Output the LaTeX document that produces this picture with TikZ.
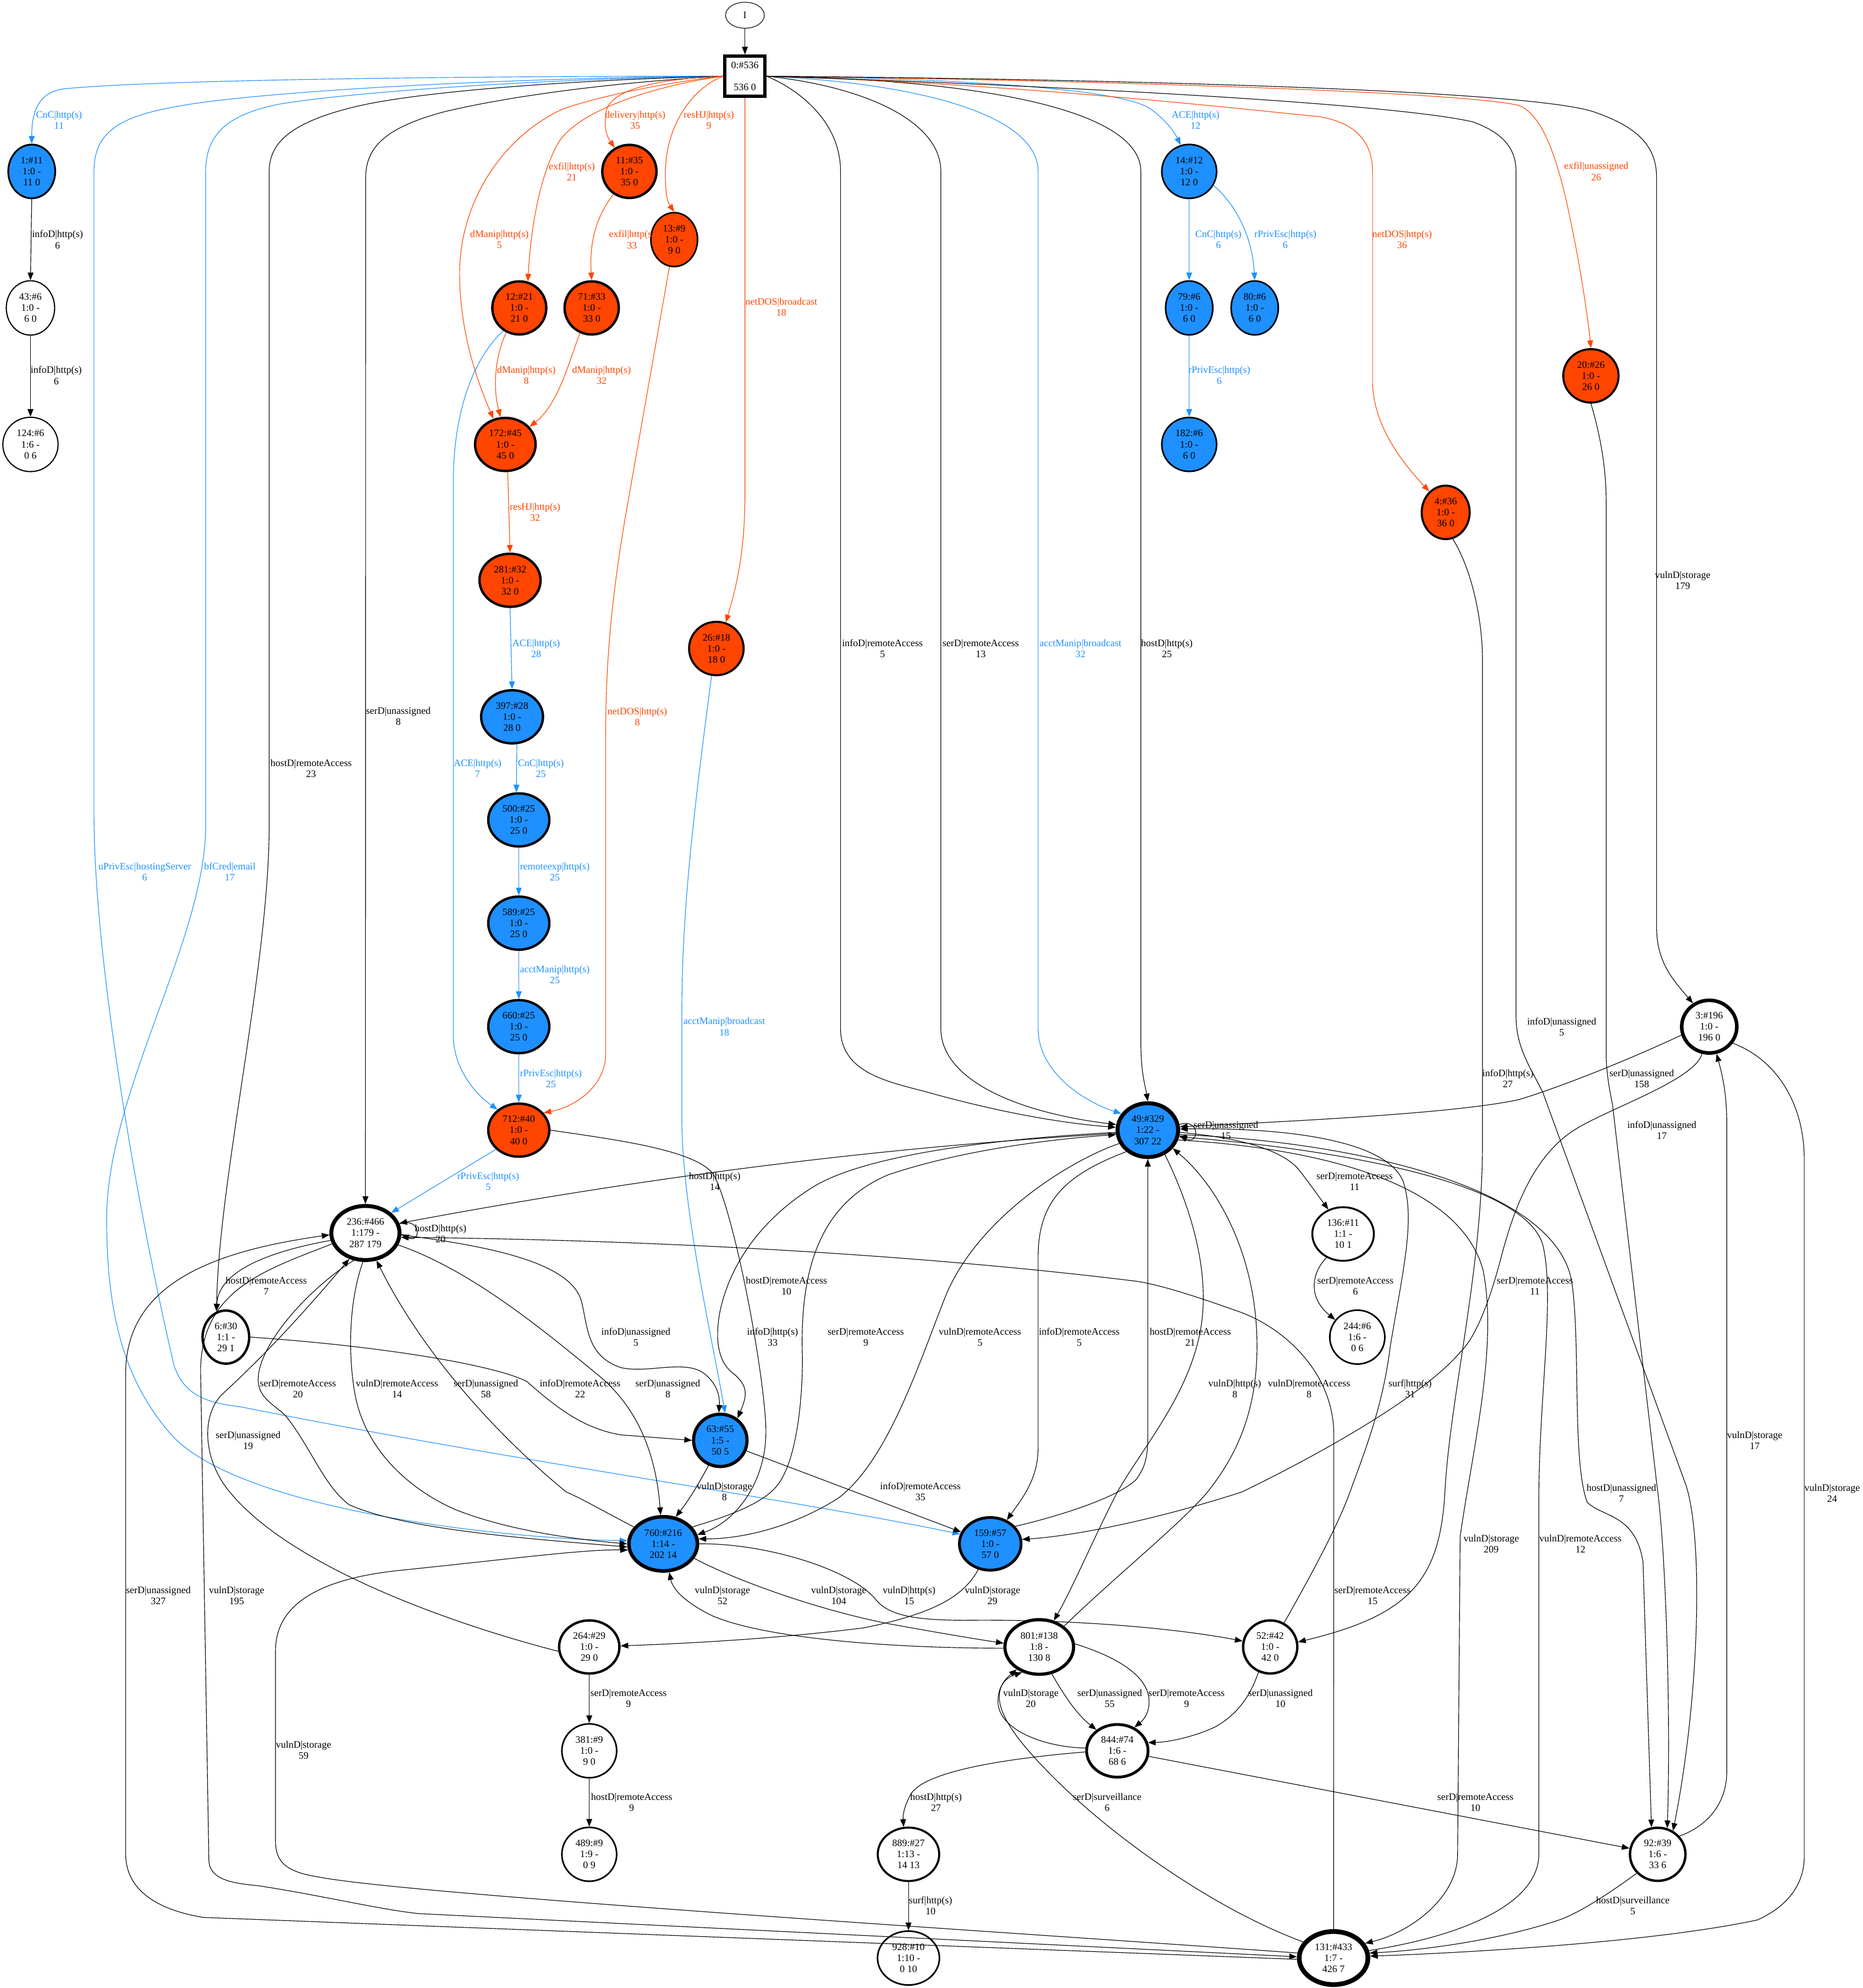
\documentclass[tikz,border=0pt]{standalone}
\usepackage{fontspec}
\setmainfont{Liberation Serif}
\usetikzlibrary{arrows.meta,shapes.geometric}
\definecolor{gblue}{RGB}{30,144,255}
\definecolor{gorange}{RGB}{255,69,0}
\newcommand\gf{\fontsize{7.8}{8.7}\selectfont}
\tikzset{
  gnode/.style={ellipse,draw=black,inner sep=0pt,align=center,font=\gf,text=black},
  ed/.style={line width=0.5pt,-{Triangle[length=6pt,width=4.6pt]}},
  edb/.style={ed,color=gblue},
  edo/.style={ed,color=gorange},
  lb/.style={align=center,inner sep=0pt,font=\gf,text=black},
  lbb/.style={lb,text=gblue},
  lbo/.style={lb,text=gorange}
}
\begin{document}
\begin{tikzpicture}[x=1pt,y=-1pt]
\fill[white] (0,0) rectangle (1466.9,1565.6);
\useasboundingbox (0,0) rectangle (1466.9,1565.6);
% ---------------- nodes
\node[gnode,fill=white,minimum width=30.5pt,minimum height=20.5pt,line width=0.5pt] (nI) at (586.7,12) {I};
\node[draw,rectangle,fill=white,minimum width=31.7pt,minimum height=31.7pt,line width=2.5pt,inner sep=0pt,align=center,font=\gf] (n0) at (586.7,60) {0:\#536\\[8.7pt]536 0};
\node[gnode,fill=gblue,minimum width=37pt,minimum height=42.3pt,line width=1.4pt] (n1) at (25,135) {1:\#11\\1:0 -\\11 0};
\node[gnode,fill=white,minimum width=38.1pt,minimum height=42.8pt,line width=0.9pt] (n43) at (24,242.5) {43:\#6\\1:0 -\\6 0};
\node[gnode,fill=white,minimum width=43.5pt,minimum height=42.8pt,line width=0.9pt] (n124) at (24,350) {124:\#6\\1:6 -\\0 6};
\node[gnode,fill=gorange,minimum width=42.7pt,minimum height=41.8pt,line width=1.9pt] (n11) at (495.7,135) {11:\#35\\1:0 -\\35 0};
\node[gnode,fill=gorange,minimum width=36.75pt,minimum height=42.45pt,line width=1.25pt] (n13) at (531,188.7) {13:\#9\\1:0 -\\9 0};
\node[gnode,fill=gorange,minimum width=42.5pt,minimum height=41.8pt,line width=1.9pt] (n12) at (409,242.5) {12:\#21\\1:0 -\\21 0};
\node[gnode,fill=gorange,minimum width=42.7pt,minimum height=41.8pt,line width=1.9pt] (n71) at (466,242.5) {71:\#33\\1:0 -\\33 0};
\node[gnode,fill=gorange,minimum width=47.7pt,minimum height=41.8pt,line width=1.9pt] (n172) at (398,350) {172:\#45\\1:0 -\\45 0};
\node[gnode,fill=gblue,minimum width=43.15pt,minimum height=42.45pt,line width=1.25pt] (n14) at (936.6,135) {14:\#12\\1:0 -\\12 0};
\node[gnode,fill=gblue,minimum width=37.15pt,minimum height=42.45pt,line width=1.25pt] (n79) at (936.6,242.5) {79:\#6\\1:0 -\\6 0};
\node[gnode,fill=gblue,minimum width=37.15pt,minimum height=42.45pt,line width=1.25pt] (n80) at (988.2,242.5) {80:\#6\\1:0 -\\6 0};
\node[gnode,fill=gblue,minimum width=43.15pt,minimum height=42.45pt,line width=1.25pt] (n182) at (936.6,350) {182:\#6\\1:0 -\\6 0};
\node[gnode,fill=gorange,minimum width=43.6pt,minimum height=42.1pt,line width=1.6pt] (n20) at (1253,296) {20:\#26\\1:0 -\\26 0};
\node[gnode,fill=gorange,minimum width=37.8pt,minimum height=42.1pt,line width=1.6pt] (n4) at (1138.6,403.5) {4:\#36\\1:0 -\\36 0};
\node[gnode,fill=gorange,minimum width=48.1pt,minimum height=41.8pt,line width=1.9pt] (n281) at (401.7,457) {281:\#32\\1:0 -\\32 0};
\node[gnode,fill=gorange,minimum width=43pt,minimum height=42.1pt,line width=1.6pt] (n26) at (564.2,510.7) {26:\#18\\1:0 -\\18 0};
\node[gnode,fill=gblue,minimum width=48.7pt,minimum height=41.8pt,line width=1.9pt] (n397) at (403.3,564.5) {397:\#28\\1:0 -\\28 0};
\node[gnode,fill=gblue,minimum width=48.1pt,minimum height=41.8pt,line width=1.9pt] (n500) at (408.6,645.7) {500:\#25\\1:0 -\\25 0};
\node[gnode,fill=gblue,minimum width=48.1pt,minimum height=41.8pt,line width=1.9pt] (n589) at (408.6,727) {589:\#25\\1:0 -\\25 0};
\node[gnode,fill=gblue,minimum width=48.1pt,minimum height=41.8pt,line width=1.9pt] (n660) at (408.6,808.5) {660:\#25\\1:0 -\\25 0};
\node[gnode,fill=gorange,minimum width=48.1pt,minimum height=41.8pt,line width=1.9pt] (n712) at (408.6,890) {712:\#40\\1:0 -\\40 0};
\node[gnode,fill=white,minimum width=43.4pt,minimum height=41.5pt,line width=2.8pt] (n3) at (1346.2,808.5) {3:\#196\\1:0 -\\196 0};
\node[gnode,fill=gblue,minimum width=47.7pt,minimum height=42.4pt,line width=3.1pt] (n49) at (904,890) {49:\#329\\1:22 -\\307 22};
\node[gnode,fill=white,minimum width=53.7pt,minimum height=42.6pt,line width=3.1pt] (n236) at (287.8,971) {236:\#466\\1:179 -\\287 179};
\node[gnode,fill=white,minimum width=48.5pt,minimum height=42.2pt,line width=1.5pt] (n136) at (1057.8,971.8) {136:\#11\\1:1 -\\10 1};
\node[gnode,fill=white,minimum width=36.7pt,minimum height=41.8pt,line width=1.9pt] (n6) at (177.9,1053) {6:\#30\\1:1 -\\29 1};
\node[gnode,fill=white,minimum width=43.35pt,minimum height=42.45pt,line width=1.25pt] (n244) at (1069,1053) {244:\#6\\1:6 -\\0 6};
\node[gnode,fill=gblue,minimum width=42.1pt,minimum height=41.2pt,line width=2.5pt] (n63) at (567.3,1134.3) {63:\#55\\1:5 -\\50 5};
\node[gnode,fill=gblue,minimum width=54pt,minimum height=42.7pt,line width=2.8pt] (n760) at (522.3,1215.8) {760:\#216\\1:14 -\\202 14};
\node[gnode,fill=gblue,minimum width=48.6pt,minimum height=41.5pt,line width=2.2pt] (n159) at (779.9,1215.8) {159:\#57\\1:0 -\\57 0};
\node[gnode,fill=white,minimum width=47.5pt,minimum height=41.8pt,line width=1.9pt] (n264) at (464.1,1297) {264:\#29\\1:0 -\\29 0};
\node[gnode,fill=white,minimum width=54.1pt,minimum height=43pt,line width=2.5pt] (n801) at (818.5,1297) {801:\#138\\1:8 -\\130 8};
\node[gnode,fill=white,minimum width=42.7pt,minimum height=41.8pt,line width=1.9pt] (n52) at (1000.4,1297) {52:\#42\\1:0 -\\42 0};
\node[gnode,fill=white,minimum width=43.15pt,minimum height=42.45pt,line width=1.25pt] (n381) at (464.1,1378.8) {381:\#9\\1:0 -\\9 0};
\node[gnode,fill=white,minimum width=48.4pt,minimum height=41.5pt,line width=2.2pt] (n844) at (880,1378.8) {844:\#74\\1:6 -\\68 6};
\node[gnode,fill=white,minimum width=43.15pt,minimum height=42.45pt,line width=1.25pt] (n489) at (464.1,1460.3) {489:\#9\\1:9 -\\0 9};
\node[gnode,fill=white,minimum width=48.4pt,minimum height=42.1pt,line width=1.6pt] (n889) at (715.5,1460.3) {889:\#27\\1:13 -\\14 13};
\node[gnode,fill=white,minimum width=43.7pt,minimum height=41.8pt,line width=1.9pt] (n92) at (1305.6,1460.3) {92:\#39\\1:6 -\\33 6};
\node[gnode,fill=white,minimum width=48.75pt,minimum height=42.45pt,line width=1.25pt] (n928) at (715.5,1542) {928:\#10\\1:10 -\\0 10};
\node[gnode,fill=white,minimum width=54.1pt,minimum height=41.8pt,line width=3.7pt] (n131) at (1050.3,1542) {131:\#433\\1:7 -\\426 7};
% ---------------- edges from the root
\draw[ed] (nI) -- (n0);
\draw[edb] (n0.west) .. controls (350,60) and (120,63) .. (50,70) .. controls (30,73) and (25,88) .. (n1.north);
\draw[edb] (n0.west) .. controls (420,61) and (230,70) .. (150,82) .. controls (100,90) and (74,100) .. (74,135) -- (74,640) .. controls (74,760) and (110,960) .. (137,1075) .. controls (145,1100) and (165,1105) .. (190,1108) .. controls (400,1150) and (620,1180) .. (n159.162);
\draw[edb] (n0.west) .. controls (430,62) and (280,72) .. (220,82) .. controls (180,90) and (162,105) .. (162,135) -- (162,650) .. controls (162,740) and (84,860) .. (84,960) .. controls (84,1040) and (100,1090) .. (135,1130) .. controls (190,1190) and (400,1212) .. (n760.175);
\draw[ed] (n0.west) .. controls (450,63) and (330,72) .. (280,84) .. controls (230,96) and (212,112) .. (212,135) -- (212,650) .. controls (212,760) and (172,930) .. (n6.110);
\draw[ed] (n0.west) .. controls (480,65) and (400,76) .. (350,88) .. controls (305,100) and (288,115) .. (288,140) -- (n236.north);
\draw[edo] (n0.west) .. controls (530,64) and (470,76) .. (443,86) .. controls (395,108) and (362,160) .. (362,215) .. controls (362,265) and (378,305) .. (n172.115);
\draw[edo] (n0.west) .. controls (525,66) and (458,84) .. (440,112) .. controls (425,138) and (418,180) .. (n12.72);
\draw[edo] (n0.west) .. controls (520,62) and (478,70) .. (477,90) .. controls (476,100) and (477,106) .. (n11.122);
\draw[edo] (n0.west) .. controls (548,68) and (525,95) .. (524,135) .. controls (524,150) and (525,158) .. (n13.north);
\draw[edo] (n0.south) -- (586.7,390) .. controls (586.7,440) and (578,468) .. (n26.70);
\draw[ed] (n0.east) .. controls (628,70) and (662,95) .. (662,135) -- (662,810) .. controls (662,845) and (700,852) .. (730,860) .. controls (780,874) and (830,884) .. (n49.175);
\draw[ed] (n0.east) .. controls (680,68) and (741,95) .. (741,135) -- (741,810) .. controls (741,850) and (800,876) .. (n49.170);
\draw[edb] (n0.east) .. controls (730,66) and (817.6,92) .. (817.6,135) -- (817.6,810) .. controls (817.6,845) and (855,868) .. (n49.148);
\draw[ed] (n0.east) .. controls (780,63) and (898.5,88) .. (898.5,135) -- (898.5,820) .. controls (898.5,845) and (902,855) .. (n49.north);
\draw[edb] (n0.east) .. controls (760,62) and (880,70) .. (905,85) .. controls (918,94) and (925,104) .. (n14.108);
\draw[edo] (n0.east) .. controls (800,66) and (960,84) .. (1040,92) .. controls (1068,97) and (1081,112) .. (1081,135) -- (1081,300) .. controls (1081,335) and (1105,365) .. (n4.128);
\draw[edo] (n0.east) .. controls (850,63) and (1150,72) .. (1196,83) .. controls (1215,90) and (1226,125) .. (1234,160) .. controls (1243,200) and (1250,245) .. (n20.north);
\draw[ed] (n0.east) .. controls (850,68) and (1100,82) .. (1160,96) .. controls (1185,105) and (1194,118) .. (1194,135) -- (1194,800) .. controls (1194,825) and (1205,840) .. (1215,860) -- (1328,1170) .. controls (1342,1215) and (1338,1340) .. (n92.57);
\draw[ed] (n0.east) .. controls (850,62) and (1200,70) .. (1255,88) .. controls (1290,100) and (1304.7,115) .. (1304.7,140) -- (1304.7,730) .. controls (1304.7,758) and (1318,772) .. (n3.125);
% ---------------- upper chains
\draw[ed] (n1.south) -- (n43.north);
\draw[ed] (n43.south) -- (n124.north);
\draw[edo] (n11.235) .. controls (470,170) and (464,190) .. (n71.north);
\draw[edo] (n12.-118) .. controls (390,280) and (388,305) .. (n172.100);
\draw[edo] (n71.-115) .. controls (448,285) and (440,318) .. (n172.36);
\draw[edo] (n172.-85) -- (n281.north);
\draw[edb] (n281.south) -- (n397.north);
\draw[edb] (n397.-80) -- (n500.95);
\draw[edb] (n500.south) -- (n589.north);
\draw[edb] (n589.south) -- (n660.north);
\draw[edb] (n660.south) -- (n712.north);
\draw[edb] (n14.south) -- (n79.north);
\draw[edb] (n14.-30) .. controls (970,158) and (986,182) .. (n80.north);
\draw[edb] (n79.south) -- (n182.north);
\draw[edb] (n12.235) .. controls (370,285) and (357,330) .. (357,380) -- (357,815) .. controls (357,842) and (375,862) .. (n712.136);
\draw[edo] (n13.-100) -- (492,410) .. controls (482,470) and (477,520) .. (477,580) -- (477,830) .. controls (477,856) and (452,872) .. (n712.35);
\draw[ed] (n20.south) .. controls (1261,345) and (1265,370) .. (1265,395) -- (1265,830) .. controls (1265,845) and (1268,860) .. (1270,870) -- (1305,1170) .. controls (1312,1220) and (1316,1350) .. (n92.70);
\draw[ed] (n4.-75) .. controls (1160,450) and (1167.6,490) .. (1167.6,520) -- (1167.6,900) .. controls (1167.6,1000) and (1142,1100) .. (1138,1175) .. controls (1134,1245) and (1110,1272) .. (n52.10);
\draw[edb] (n26.260) .. controls (545,650) and (537,720) .. (537,800) -- (537,880) .. controls (537,950) and (560,1050) .. (n63.80);
% ---------------- around 236
\draw[edb] (n712.220) -- (n236.38);
\draw[ed] (n712.east) .. controls (480,897) and (548,905) .. (562,925) .. controls (578,955) and (600,1070) .. (603,1120) .. controls (606,1165) and (580,1198) .. (n760.15);
\draw[ed] (n49.186) .. controls (700,903) and (520,925) .. (n236.16);
\draw[ed] (n236.15) .. controls (332,958) and (332,980) .. (n236.-2);
\draw[ed] (n131.north) -- (1050.5,1130) .. controls (1050.5,1080) and (1010,1045) .. (976,1033) .. controls (945,1022) and (915,1012) .. (895,1009) .. controls (700,985) and (480,976) .. (n236.-7);
\draw[ed] (n236.192) .. controls (215,985) and (172,1000) .. (n6.110);
\draw[ed] (n131.182) -- (160,1510) .. controls (130,1505) and (99,1492) .. (99,1460) -- (99,1080) .. controls (100,1010) and (170,985) .. (n236.183);
\draw[ed] (n236.198) .. controls (210,1000) and (158,1015) .. (158,1080) -- (164.5,1465) .. controls (165,1480) and (182,1483) .. (203,1485) .. controls (250,1492) and (300,1504) .. (330,1507) -- (n131.178);
\draw[ed] (n131.172) .. controls (800,1522) and (320,1492) .. (250,1478) .. controls (225,1474) and (217,1466) .. (217,1450) -- (217,1300) .. controls (217,1270) and (240,1245) .. (312,1237) .. controls (400,1228) and (460,1220) .. (n760.190);
\draw[ed] (n264.188) .. controls (360,1280) and (230,1235) .. (181,1175) .. controls (160,1150) and (158,1115) .. (175,1098) .. controls (200,1075) and (230,1045) .. (n236.238);
\draw[ed] (n236.247) .. controls (250,1010) and (210,1050) .. (204,1080) .. controls (200,1100) and (215,1105) .. (225,1115) .. controls (245,1140) and (255,1170) .. (275,1185) .. controls (320,1205) and (420,1212) .. (n760.185);
\draw[ed] (n236.265) .. controls (273,1030) and (275,1075) .. (280,1100) .. controls (288,1140) and (320,1172) .. (359,1189) .. controls (400,1205) and (450,1212) .. (n760.180);
\draw[ed] (n760.150) .. controls (475,1190) and (458,1180) .. (446,1175) .. controls (385,1125) and (330,1060) .. (n236.292);
\draw[ed] (n236.-20) .. controls (370,1000) and (425,1045) .. (470,1082) .. controls (505,1110) and (517,1150) .. (n760.95);
\draw[ed] (n236.-3) .. controls (390,982) and (450,995) .. (458,1025) .. controls (463,1045) and (462,1068) .. (489,1077) .. controls (510,1082) and (540,1070) .. (555,1082) .. controls (565,1090) and (567,1100) .. (n63.93);
\draw[ed] (n6.east) .. controls (300,1060) and (390,1075) .. (415,1088) .. controls (440,1110) and (460,1125) .. (489,1130) -- (n63.west);
% ---------------- around 49, 63, 760, 159
\draw[ed] (n760.30) .. controls (570,1195) and (600,1185) .. (612,1170) .. controls (628,1150) and (632,1100) .. (632,1070) .. controls (630,1010) and (640,950) .. (700,925) .. controls (760,905) and (830,897) .. (n49.188);
\draw[ed] (n49.184) .. controls (780,897) and (680,910) .. (640,935) .. controls (600,960) and (575,995) .. (567,1033) .. controls (562,1060) and (568,1075) .. (578,1082) .. controls (590,1092) and (588,1100) .. (n63.52);
\draw[ed] (n49.205) .. controls (840,915) and (770,960) .. (745,1020) .. controls (725,1070) and (700,1150) .. (660,1180) .. controls (620,1205) and (580,1212) .. (n760.8);
\draw[ed] (n63.245) .. controls (552,1165) and (545,1178) .. (n760.65);
\draw[ed] (n63.-22) -- (n159.158);
\draw[ed] (n49.225) .. controls (840,925) and (817.6,945) .. (817.6,990) -- (817.6,1140) .. controls (817.6,1165) and (805,1180) .. (n159.55);
\draw[ed] (n159.35) .. controls (830,1195) and (880,1180) .. (895,1165) .. controls (902,1155) and (904,1148) .. (904,1130) -- (n49.south);
\draw[ed] (n3.255) .. controls (1335,850) and (1270,872) .. (1243,888) .. controls (1205,910) and (1190,960) .. (1181,995) .. controls (1170,1035) and (1160,1055) .. (1150,1065) .. controls (1120,1100) and (1040,1145) .. (978,1175) .. controls (900,1200) and (840,1210) .. (n159.8);
\draw[ed] (n3.197) .. controls (1260,845) and (1210,862) .. (1196,866) .. controls (1150,876) and (1040,882) .. (n49.6);
\draw[ed] (n92.40) .. controls (1345,1438) and (1360,1420) .. (1360,1395) -- (1360,885) .. controls (1360,860) and (1356,845) .. (n3.-75);
\draw[ed] (n3.-35) .. controls (1400,835) and (1421,870) .. (1421,913) -- (1421,1462) .. controls (1421,1490) and (1400,1505) .. (1384,1512) .. controls (1300,1530) and (1150,1538) .. (n131.3);
\draw[ed] (n49.-18) .. controls (1050,905) and (1150,935) .. (1168,1000) .. controls (1180,1060) and (1160,1140) .. (1150,1210) -- (1148,1460) .. controls (1148,1495) and (1110,1522) .. (n131.25);
\draw[ed] (n131.12) .. controls (1150,1525) and (1212,1500) .. (1212,1460) -- (1212,1180) .. controls (1212,1100) and (1225,1020) .. (1215,980) .. controls (1200,930) and (1050,905) .. (n49.-12);
\draw[ed] (n49.-8) .. controls (1050,898) and (1225,930) .. (1238,1010) .. controls (1245,1060) and (1238,1150) .. (1250,1183) .. controls (1262,1195) and (1288,1192) .. (1294,1230) -- (n92.103);
\draw[ed] (n49.-55) .. controls (935,945) and (955,1000) .. (945,1050) .. controls (935,1100) and (900,1140) .. (880,1175) .. controls (862,1210) and (845,1250) .. (n801.61);
\draw[ed] (n801.40) .. controls (880,1240) and (930,1200) .. (951,1175) .. controls (975,1145) and (990,1110) .. (990,1060) .. controls (990,990) and (960,935) .. (n49.-36);
\draw[ed] (n52.60) .. controls (1030,1245) and (1055,1200) .. (1065,1170) .. controls (1080,1130) and (1090,1100) .. (1095,1060) .. controls (1105,1000) and (1115,960) .. (1105,930) .. controls (1090,895) and (1000,888) .. (n49.2);
\draw[ed] (n49.-4) .. controls (965,895) and (1005,902) .. (1022,920) .. controls (1030,930) and (1037,940) .. (n136.121);
\draw[ed] (n49.10) .. controls (945,880) and (945,902) .. (n49.-10);
\draw[ed] (n136.235) .. controls (1035,1000) and (1028,1020) .. (n244.142);
% ---------------- lower part
\draw[ed] (n760.-25) .. controls (580,1245) and (650,1270) .. (707,1280) .. controls (740,1286) and (770,1291) .. (n801.174);
\draw[ed] (n801.182) .. controls (700,1298) and (600,1290) .. (560,1272) .. controls (540,1262) and (530,1252) .. (n760.-78);
\draw[ed] (n760.east) .. controls (600,1215) and (670,1235) .. (690,1260) .. controls (700,1272) and (720,1276) .. (760,1276) .. controls (850,1275) and (930,1283) .. (n52.168);
\draw[ed] (n159.-115) .. controls (760,1255) and (740,1270) .. (680,1282) .. controls (600,1292) and (520,1295) .. (n264.2);
\draw[ed] (n264.south) -- (n381.north);
\draw[ed] (n381.south) -- (n489.north);
\draw[ed] (n801.-65) .. controls (838,1335) and (848,1350) .. (n844.135);
\draw[ed] (n801.5) .. controls (880,1305) and (905,1320) .. (905,1340) .. controls (905,1350) and (900,1355) .. (n844.54);
\draw[ed] (n844.175) .. controls (822,1376) and (786,1362) .. (786,1340) .. controls (786,1330) and (790,1322) .. (n801.236);
\draw[ed] (n52.245) .. controls (985,1335) and (975,1350) .. (957,1360) .. controls (940,1368) and (920,1372) .. (n844.15);
\draw[ed] (n844.182) .. controls (790,1385) and (730,1395) .. (718,1412) .. controls (712,1422) and (711,1430) .. (n889.100);
\draw[ed] (n889.south) -- (n928.north);
\draw[ed] (n844.-10) -- (n92.168);
\draw[ed] (n131.152) .. controls (960,1505) and (880,1450) .. (830,1400) .. controls (790,1360) and (776,1335) .. (n801.225);
\draw[ed] (n92.222) .. controls (1262,1495) and (1242,1507) .. (1228,1512) .. controls (1180,1528) and (1120,1536) .. (n131.8);
% ---------------- labels
\node[lbb] (l1) at (46.5,94.6) {CnC|http(s)\\11};
\node[lb] (l2) at (45.3,188.7) {infoD|http(s)\\6};
\node[lb] (l3) at (44.3,295.7) {infoD|http(s)\\6};
\node[lbo] (l4) at (393.3,188.7) {dManip|http(s)\\5};
\node[lbo] (l5) at (450.4,135) {exfil|http(s)\\21};
\node[lbo] (l6) at (500.3,94.5) {delivery|http(s)\\35};
\node[lbo] (l7) at (558.3,94.5) {resHJ|http(s)\\9};
\node[lbo] (l8) at (497.8,188.7) {exfil|http(s)\\33};
\node[lbo] (l9) at (615.4,242) {netDOS|broadcast\\18};
\node[lbo] (l10) at (414.5,295.7) {dManip|http(s)\\8};
\node[lbo] (l11) at (473.8,295.7) {dManip|http(s)\\32};
\node[lbo] (l12) at (421.4,403.2) {resHJ|http(s)\\32};
\node[lbb] (l13) at (422.3,510.7) {ACE|http(s)\\28};
\node[lbb] (l14) at (426,605.2) {CnC|http(s)\\25};
\node[lbb] (l15) at (376.1,605.2) {ACE|http(s)\\7};
\node[lbb] (l16) at (437,686.5) {remoteexp|http(s)\\25};
\node[lbb] (l17) at (437,767.7) {acctManip|http(s)\\25};
\node[lbb] (l18) at (433.9,849.3) {rPrivEsc|http(s)\\25};
\node[lbo] (l19) at (502,564.3) {netDOS|http(s)\\8};
\node[lbb] (l20) at (384.5,930.5) {rPrivEsc|http(s)\\5};
\node[lb] (l21) at (313.7,564) {serD|unassigned\\8};
\node[lb] (l22) at (245,605) {hostD|remoteAccess\\23};
\node[lbb] (l23) at (114,686.5) {uPrivEsc|hostingServer\\6};
\node[lbb] (l24) at (181,686.5) {bfCred|email\\17};
\node[lb] (l25) at (695,510.7) {infoD|remoteAccess\\5};
\node[lb] (l26) at (772.4,510.7) {serD|remoteAccess\\13};
\node[lbb] (l27) at (851,510.7) {acctManip|broadcast\\32};
\node[lb] (l28) at (919,510.7) {hostD|http(s)\\25};
\node[lbb] (l29) at (941.6,94.5) {ACE|http(s)\\12};
\node[lbb] (l30) at (959.6,188.7) {CnC|http(s)\\6};
\node[lbb] (l31) at (1012.3,188.7) {rPrivEsc|http(s)\\6};
\node[lbb] (l32) at (960.3,295.7) {rPrivEsc|http(s)\\6};
\node[lbo] (l33) at (1104.3,188.7) {netDOS|http(s)\\36};
\node[lbo] (l34) at (1257.2,135) {exfil|unassigned\\26};
\node[lb] (l35) at (1325.3,457) {vulnD|storage\\179};
\node[lb] (l36) at (1230,808.5) {infoD|unassigned\\5};
\node[lb] (l37) at (1187.6,849.3) {infoD|http(s)\\27};
\node[lb] (l38) at (1293,849.3) {serD|unassigned\\158};
\node[lb] (l39) at (1308.8,890) {infoD|unassigned\\17};
\node[lb] (l40) at (1066.9,930.5) {serD|remoteAccess\\11};
\node[lb] (l41) at (1067.5,1012.5) {serD|remoteAccess\\6};
\node[lb] (l42) at (1208.9,1012.5) {serD|remoteAccess\\11};
\node[lb] (l43) at (1031,1093.5) {vulnD|remoteAccess\\8};
\node[lb] (l44) at (1110.6,1093.5) {surf|http(s)\\31};
\node[lb] (l45) at (972.5,1093.5) {vulnD|http(s)\\8};
\node[lb] (l46) at (1382,1134.3) {vulnD|storage\\17};
\node[lb] (l47) at (1277,1176) {hostD|unassigned\\7};
\node[lb] (l48) at (1443,1176) {vulnD|storage\\24};
\node[lb] (l49) at (1174.5,1215.7) {vulnD|storage\\209};
\node[lb] (l50) at (1244.7,1215.7) {vulnD|remoteAccess\\12};
\node[lb] (l51) at (1081,1256.5) {serD|remoteAccess\\15};
\node[lb] (l52) at (1008.5,1337.5) {serD|unassigned\\10};
\node[lb] (l53) at (1162,1419.5) {serD|remoteAccess\\10};
\node[lb] (l54) at (1286,1500.8) {hostD|surveillance\\5};
\node[lb] (l55) at (965.5,890) {serD|unassigned\\15};
\node[lb] (l56) at (562.9,930.5) {hostD|http(s)\\14};
\node[lb] (l57) at (619.4,1012.5) {hostD|remoteAccess\\10};
\node[lb] (l58) at (500.8,1053) {infoD|unassigned\\5};
\node[lb] (l59) at (608.5,1053) {infoD|http(s)\\33};
\node[lb] (l60) at (681.9,1053) {serD|remoteAccess\\9};
\node[lb] (l61) at (771.8,1053) {vulnD|remoteAccess\\5};
\node[lb] (l62) at (850,1053) {infoD|remoteAccess\\5};
\node[lb] (l63) at (937.5,1053) {hostD|remoteAccess\\21};
\node[lb] (l64) at (526,1093.5) {serD|unassigned\\8};
\node[lbb] (l65) at (570.4,808.5) {acctManip|broadcast\\18};
\node[lb] (l66) at (724.9,1174.8) {infoD|remoteAccess\\35};
\node[lb] (l67) at (570.5,1174.8) {vulnD|storage\\8};
\node[lb] (l68) at (209.7,1012.5) {hostD|remoteAccess\\7};
\node[lb] (l69) at (347,971.4) {hostD|http(s)\\20};
\node[lb] (l70) at (234.7,1093.5) {serD|remoteAccess\\20};
\node[lb] (l71) at (312.7,1093.5) {vulnD|remoteAccess\\14};
\node[lb] (l72) at (382.7,1093.5) {serD|unassigned\\58};
\node[lb] (l73) at (456.9,1093.5) {infoD|remoteAccess\\22};
\node[lb] (l74) at (195.4,1134.3) {serD|unassigned\\19};
\node[lb] (l75) at (124.7,1256.5) {serD|unassigned\\327};
\node[lb] (l76) at (186.4,1256.5) {vulnD|storage\\195};
\node[lb] (l77) at (239.1,1378.4) {vulnD|storage\\59};
\node[lb] (l78) at (569,1256.5) {vulnD|storage\\52};
\node[lb] (l79) at (660.6,1256.5) {vulnD|storage\\104};
\node[lb] (l80) at (716,1256.5) {vulnD|http(s)\\15};
\node[lb] (l81) at (781.7,1256.5) {vulnD|storage\\29};
\node[lb] (l82) at (811.9,1337.5) {vulnD|storage\\20};
\node[lb] (l83) at (874,1337.5) {serD|unassigned\\55};
\node[lb] (l84) at (934.5,1337.5) {serD|remoteAccess\\9};
\node[lb] (l85) at (495,1337.5) {serD|remoteAccess\\9};
\node[lb] (l86) at (497.5,1419.5) {hostD|remoteAccess\\9};
\node[lb] (l87) at (737.2,1419.5) {hostD|http(s)\\27};
\node[lb] (l88) at (872,1419.5) {serD|surveillance\\6};
\node[lb] (l89) at (732.9,1500.8) {surf|http(s)\\10};
\end{tikzpicture}
\end{document}
